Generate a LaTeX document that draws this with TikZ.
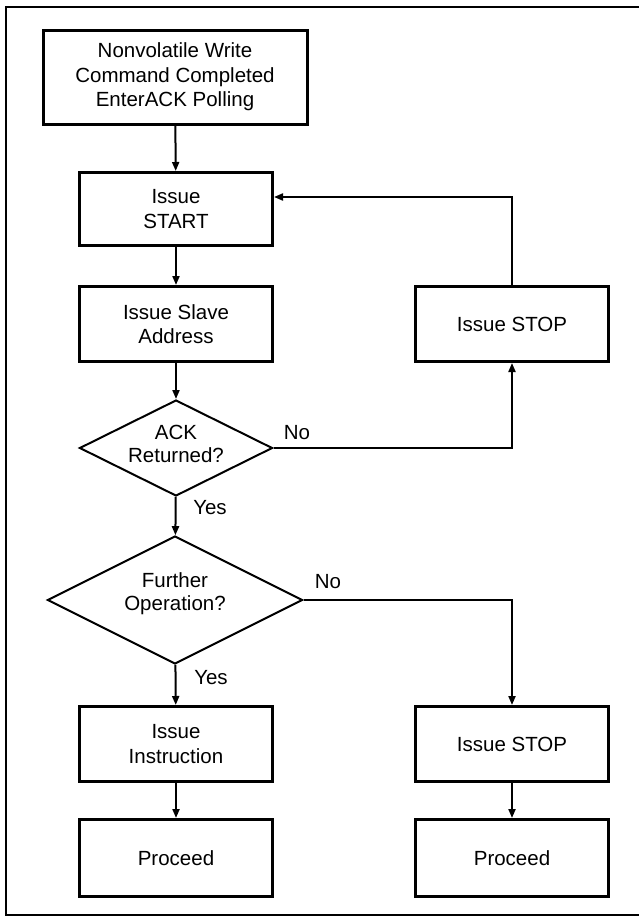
\documentclass[tikz,border=0pt]{standalone}
\usepackage{fontspec}
\setmainfont{Liberation Sans}
\usetikzlibrary{arrows.meta,shapes.geometric,positioning}

\tikzset{
  txt/.style={font=\fontsize{20.5}{24.5}\selectfont},
  box/.style={draw, line width=3pt, txt, align=center, inner sep=0pt,
    minimum width=193pt, minimum height=75pt},
  decision/.style={draw, diamond, line width=2pt, align=center, inner sep=0pt,
    shape aspect=2, font=\fontsize{20.5}{23}\selectfont},
  arr/.style={line width=2pt, -{Triangle[length=9pt,width=7pt]}}
}

\begin{document}
\begin{tikzpicture}[x=1pt,y=-1pt]

  \useasboundingbox (0,0) rectangle (639,916);
  \draw[line width=1.6pt] (640,7) -- (6,7) -- (6,915) -- (640,915);

  \node[box, minimum width=264pt, minimum height=94pt] (init) at (175,77)
    {Nonvolatile Write\\Command Completed\\EnterACK Polling};
  \node[box, minimum height=73pt] (start) at (176,209) {Issue\\START};
  \node[box] (slave) at (176,324) {Issue Slave\\Address};
  \node[box] (stop1) at (512,324) {Issue STOP};

  \node[decision, text depth=8pt, minimum width=193pt, minimum height=96pt]
    (ack) at (176,448) {ACK\\Returned?};
  \node[decision, text depth=16pt, minimum width=255pt, minimum height=128pt]
    (further) at (175,600) {Further\\Operation?};

  \node[box] (instr) at (176,744) {Issue\\Instruction};
  \node[box] (stop2) at (512,744) {Issue STOP};
  \node[box, minimum height=77pt] (proc1) at (176,858) {Proceed};
  \node[box, minimum height=77pt] (proc2) at (512,858) {Proceed};

  \draw[arr] (init) -- (start);
  \draw[arr] (start) -- (slave);
  \draw[arr] (slave) -- (ack);
  \draw[arr] (ack) -- (further);
  \draw[arr] (further) -- (instr);
  \draw[arr] (instr) -- (proc1);
  \draw[arr] (ack.east) -| (stop1);
  \draw[arr] (stop1) |- ([yshift=12pt]start.east);
  \draw[arr] (further.east) -| (stop2);
  \draw[arr] (stop2) -- (proc2);

  \node[txt] (ackno) at (297,433) {No};
  \node[txt] (ackyes) at (210,508) {Yes};
  \node[txt] (furtherno) at (328,582) {No};
  \node[txt] (furtheryes) at (211,678) {Yes};

\end{tikzpicture}
\end{document}
